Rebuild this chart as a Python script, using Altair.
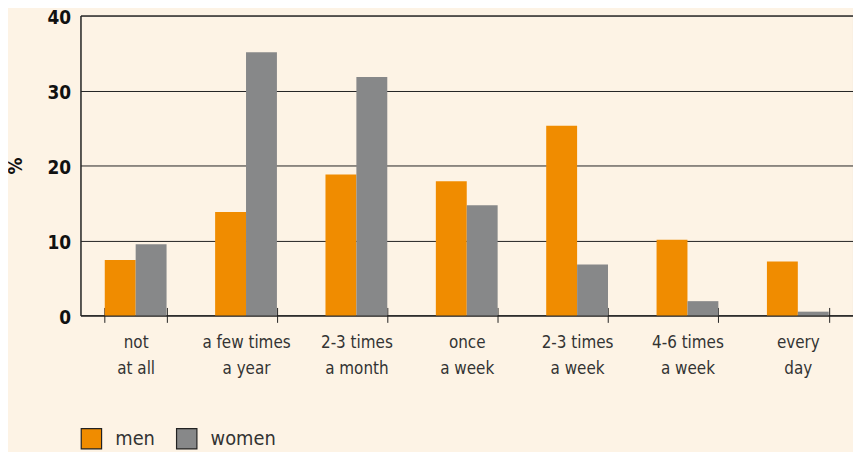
import altair as alt
import pandas as pd

categories = ["not\nat all", "a few times\na year", "2-3 times\na month", "once\na week",
              "2-3 times\na week", "4-6 times\na week", "every\nday"]
men = [7.4, 13.8, 18.8, 17.9, 25.3, 10.1, 7.2]
women = [9.5, 35.1, 31.8, 14.7, 6.8, 1.9, 0.5]
series = ["men", "women"]
colors = ["#F08C00", "#878889"]

rows = []
for c, m, w in zip(categories, men, women):
    rows.append({"cat": c, "sex": "men", "val": m})
    rows.append({"cat": c, "sex": "women", "val": w})
df = pd.DataFrame(rows)

FONT = "'DejaVu Sans Condensed', Roboto, sans-serif"
xscale = alt.Scale(paddingInner=0.44, paddingOuter=0.22)

bars = alt.Chart(df).mark_bar().encode(
    x=alt.X("cat:N", sort=categories, title=None, scale=xscale,
            axis=alt.Axis(orient="bottom", labelAngle=0, tickBand="extent", tickSize=7,
                          tickColor="#222", domainColor="#222", labelPadding=12,
                          labelFontSize=17, labelColor="#333", labelFont=FONT,
                          labelLineHeight=27,
                          labelExpr="isValid(datum.value) ? split(datum.value, '\\n') : ''",
                          labelBaseline="top")),
    xOffset=alt.XOffset("sex:N", sort=series),
    y=alt.Y("val:Q", title="%", scale=alt.Scale(domain=[0, 40]),
            axis=alt.Axis(values=[0, 10, 20, 30, 40], ticks=False, labelPadding=10,
                          labelOffset=2,
                          labelFontSize=19, labelFontWeight="bold", labelColor="#111",
                          labelFont=FONT, titleFont=FONT, titleFontSize=19,
                          titleFontWeight="bold", titleColor="#111", titlePadding=22,
                          gridColor="#222", gridOpacity=1, domainColor="#222")),
    color=alt.Color("sex:N", sort=series, scale=alt.Scale(domain=series, range=colors),
                    legend=alt.Legend(title=None, orient="none", legendX=0, legendY=415,
                                      direction="horizontal", symbolType="square",
                                      symbolSize=420, symbolStrokeColor="#222",
                                      symbolStrokeWidth=1.2, labelFontSize=20,
                                      labelFont=FONT, labelColor="#333", columnPadding=18,
                                      labelOffset=13)),
)

# inner half of the category separator ticks (they cross the baseline)
inner_ticks = alt.Chart(df).mark_bar(opacity=0).encode(
    x=alt.X("cat:N", sort=categories, title=None, scale=xscale,
            axis=alt.Axis(orient="bottom", tickBand="extent", tickSize=8, tickColor="#222",
                          offset=-8, labels=False, domain=False, grid=False)),
)

chart = alt.layer(bars, inner_ticks).resolve_axis(x="independent").properties(
    width=778, height=302,
    background="#FDF3E5",
    padding={"left": 73, "top": 6, "right": 0, "bottom": 140},
    autosize=alt.AutoSizeParams(type="none"),
).configure_view(stroke="#222", strokeWidth=1).configure_axis(grid=True).configure_axisX(grid=False)

chart.save("out.html", embed_options={"renderer": "svg", "actions": False})
